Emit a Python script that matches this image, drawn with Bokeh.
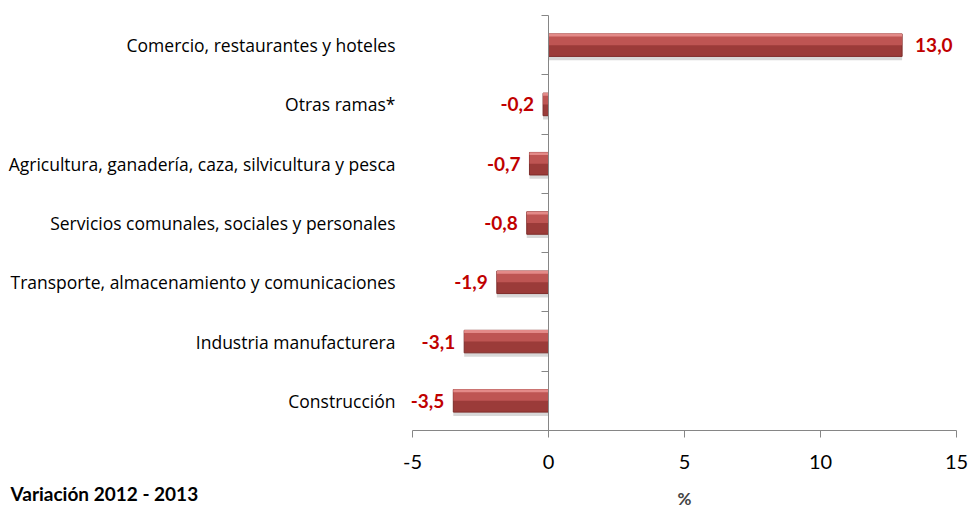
from bokeh.plotting import figure
from bokeh.models import (Range1d, FixedTicker, Label, ColumnDataSource, LabelSet,
                          LinearAxis)
from bokeh.core.properties import value
from bokeh.embed import file_html
from bokeh.resources import INLINE

categories = [
    "Comercio, restaurantes y hoteles",
    "Otras ramas*",
    "Agricultura, ganadería, caza, silvicultura y pesca",
    "Servicios comunales, sociales y personales",
    "Transporte, almacenamiento y comunicaciones",
    "Industria manufacturera",
    "Construcción",
]
values = [13.0, -0.2, -0.7, -0.8, -1.9, -3.1, -3.5]
value_labels = ["13,0", "-0,2", "-0,7", "-0,8", "-1,9", "-3,1", "-3,5"]
x_ticks = [-5, 0, 5, 10, 15]
x_tick_labels = ["-5", "0", "5", "10", "15"]

FONT = "Lato"
CAT_FONT = "Open Sans"
n = len(categories)
ypos = [n - 0.5 - i for i in range(n)]

# layout (pixels) of the plotting area inside the canvas
W, H = 968, 508
AX_L, AX_R, AX_T, AX_B = 412, 956, 15, 430
XMIN, XMAX = x_ticks[0], x_ticks[-1]
kx = (AX_R - AX_L) / (XMAX - XMIN)
ky = (AX_B - AX_T) / n
x_range = Range1d(XMIN - AX_L / kx, XMAX + (W - AX_R) / kx)
y_range = Range1d(-(H - AX_B) / ky, n + AX_T / ky)

p = figure(width=W, height=H, output_backend="svg", toolbar_location=None,
           x_range=x_range, y_range=y_range,
           x_axis_location=None, y_axis_location=None,
           min_border=0)
p.title.visible = False
p.outline_line_color = None
p.grid.visible = False
p.background_fill_color = "white"

# x axis at y=0
xa = LinearAxis(fixed_location=0, bounds=(XMIN, XMAX))
xa.ticker = FixedTicker(ticks=x_ticks)
xa.major_label_overrides = {t: l for t, l in zip(x_ticks, x_tick_labels)}
xa.axis_line_color = "#868686"
xa.major_tick_line_color = "#868686"
xa.major_tick_out = 7
xa.major_tick_in = 0
xa.minor_tick_line_color = None
xa.major_label_text_font = FONT
xa.major_label_text_font_size = "20px"
xa.major_label_text_color = "black"
xa.major_label_standoff = 17
xa.axis_label = "%"
xa.axis_label_text_font = FONT
xa.axis_label_text_font_style = "bold"
xa.axis_label_text_font_size = "17px"
xa.axis_label_standoff = 16
p.add_layout(xa, "below")

# category labels at left edge of plotting area
ya = LinearAxis(fixed_location=XMIN, bounds=(0, n))
ya.ticker = FixedTicker(ticks=ypos)
ya.major_label_overrides = {y: c for y, c in zip(ypos, categories)}
ya.axis_line_color = None
ya.major_tick_line_color = None
ya.major_tick_out = 0
ya.major_tick_in = 0
ya.minor_tick_line_color = None
ya.major_label_standoff = 17
ya.major_label_text_font = CAT_FONT
ya.major_label_text_font_size = "17.5px"
ya.major_label_text_color = "black"
p.add_layout(ya, "left")

# vertical axis at x=0 with category boundary ticks
ya0 = LinearAxis(fixed_location=0, bounds=(0, n))
ya0.ticker = FixedTicker(ticks=list(range(n + 1)))
ya0.major_label_overrides = {i: "" for i in range(n + 1)}
ya0.major_label_text_font_size = "0px"
ya0.axis_line_color = "#868686"
ya0.major_tick_line_color = "#868686"
ya0.major_tick_out = 7
ya0.major_tick_in = 0
ya0.minor_tick_line_color = None
p.add_layout(ya0, "left")

src = ColumnDataSource(dict(y=ypos, v=values, lab=value_labels,
                            ys=[y - 0.045 for y in ypos],
                            yh=[y + 0.09 for y in ypos],
                            yt=[y + 0.17 for y in ypos]))

# shadow
p.hbar(y="ys", right="v", left=0, height=0.42, source=src,
       fill_color="#7f7f7f", fill_alpha=0.3, line_color=None)
# main bar
p.hbar(y="y", right="v", left=0, height=0.38, source=src,
       fill_color="#9B3B39", line_color="#7E2D2B", line_width=1)
# highlight bands
p.hbar(y="yh", right="v", left=0, height=0.18, source=src,
       fill_color="#BE5553", line_color=None)
p.hbar(y="yt", right="v", left=0, height=0.05, source=src,
       fill_color="#E38A88", line_color=None)

pos = ColumnDataSource(dict(y=[y for y, v in zip(ypos, values) if v >= 0],
                            v=[v for v in values if v >= 0],
                            lab=[l for l, v in zip(value_labels, values) if v >= 0]))
neg = ColumnDataSource(dict(y=[y for y, v in zip(ypos, values) if v < 0],
                            v=[v for v in values if v < 0],
                            lab=[l for l, v in zip(value_labels, values) if v < 0]))
p.add_layout(LabelSet(x="v", y="y", text="lab", source=pos, x_offset=13,
                      text_align="left", text_baseline="middle",
                      text_font=value(FONT), text_font_style="bold",
                      text_font_size="19px", text_color="#C00000"))
p.add_layout(LabelSet(x="v", y="y", text="lab", source=neg, x_offset=-9,
                      text_align="right", text_baseline="middle",
                      text_font=value(FONT), text_font_style="bold",
                      text_font_size="19px", text_color="#C00000"))

p.add_layout(Label(x=10, y=H - 493, x_units="screen", y_units="screen",
                   text="Variación 2012 - 2013",
                   text_font=FONT, text_font_style="bold", text_font_size="19px",
                   text_baseline="middle", text_align="left", text_color="black"))

open("out.html", "w").write(file_html(p, INLINE))
